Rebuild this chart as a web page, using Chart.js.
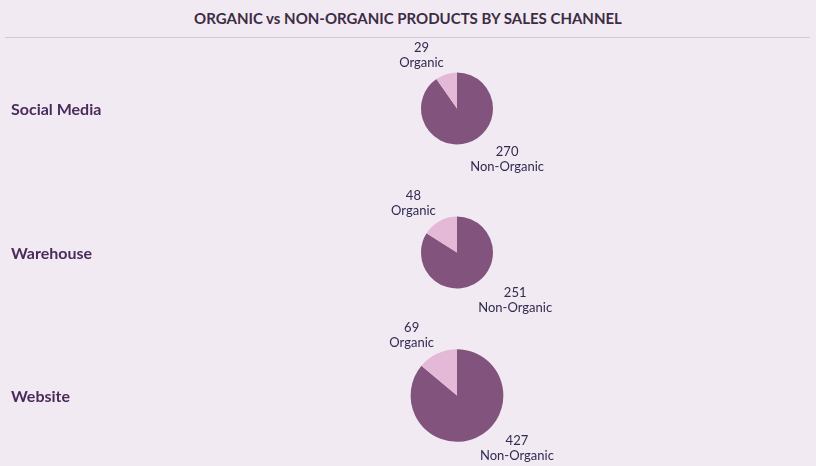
<!DOCTYPE html>
<html><head><meta charset="utf-8">
<script src="https://cdn.jsdelivr.net/npm/chart.js@4"></script>
<style>
html,body{margin:0;padding:0;background:#f2eaf2;}
#wrap{position:relative;width:816px;height:466px;overflow:hidden;background:#f2eaf2;font-family:Lato,"Open Sans",sans-serif;}
#title{position:absolute;left:0;top:9px;width:816px;text-align:center;font-weight:bold;font-size:15px;line-height:18px;color:#3d2c45;}
#rule{position:absolute;left:5px;top:37px;width:805px;height:1px;background:#d3c9d3;}
canvas.pie{position:absolute;left:0;}
.lab{position:absolute;left:11px;height:143px;line-height:143px;font-weight:bold;font-size:16px;color:#4a2c5c;white-space:nowrap;}
</style></head>
<body><div id="wrap">
<div id="title">ORGANIC vs NON-ORGANIC PRODUCTS BY SALES CHANNEL</div>
<div id="rule"></div>
</div>
<script>
const channels = ['Social Media', 'Warehouse', 'Website'];
const sliceLabels = ['Non-Organic', 'Organic'];
const nonOrganic = [270, 251, 427];
const organic = [29, 48, 69];

const DARK = '#82547d';
const LIGHT = '#e4b9d7';
const LABEL_COLOR = '#302b50';
const ROW_TOPS = [37, 181, 324];
const ROW_H = 143, PAD = 20;
const BASE_R = 36, BASE_TOTAL = nonOrganic[0] + organic[0];

const labelPlugin = {
  id: 'outLabels',
  afterDatasetsDraw(chart) {
    const ctx = chart.ctx;
    const ds = chart.data.datasets[0];
    const meta = chart.getDatasetMeta(0);
    ctx.save();
    ctx.font = '13px Lato, "Open Sans", sans-serif';
    ctx.fillStyle = LABEL_COLOR;
    ctx.textAlign = 'center';
    ctx.textBaseline = 'middle';
    const lh = 15;
    meta.data.forEach((arc, i) => {
      const p = arc.getProps(['x', 'y', 'startAngle', 'endAngle', 'outerRadius'], true);
      const mid = (p.startAngle + p.endAngle) / 2;
      const r = p.outerRadius + 8;
      const px = p.x + Math.cos(mid) * r;
      const py = p.y + Math.sin(mid) * r;
      const lines = [String(ds.data[i]), chart.data.labels[i]];
      const w = Math.max(...lines.map(t => ctx.measureText(t).width));
      const h = lines.length * lh;
      const left = Math.cos(mid) >= 0 ? px : px - w;
      let top = Math.sin(mid) >= 0 ? py - 6 : py + 4 - h;
      top = Math.min(top, chart.height - PAD - 4 - h);
      lines.forEach((t, k) => ctx.fillText(t, left + w / 2, top + lh * k + lh / 2));
    });
    ctx.restore();
  }
};

const wrap = document.getElementById('wrap');
channels.forEach((name, i) => {
  const cv = document.createElement('canvas');
  cv.className = 'pie';
  cv.width = 816; cv.height = ROW_H + 2 * PAD;
  cv.style.top = (ROW_TOPS[i] - PAD) + 'px';
  wrap.appendChild(cv);
  const lab = document.createElement('div');
  lab.className = 'lab';
  lab.style.top = ROW_TOPS[i] + 'px';
  lab.textContent = name;
  wrap.appendChild(lab);
  const total = nonOrganic[i] + organic[i];
  const radius = BASE_R * Math.sqrt(total / BASE_TOTAL);
  new Chart(cv, {
    type: 'pie',
    data: {
      labels: sliceLabels,
      datasets: [{
        data: [nonOrganic[i], organic[i]],
        backgroundColor: [DARK, LIGHT],
        borderWidth: 0
      }]
    },
    options: {
      responsive: false,
      animation: false,
      events: [],
      radius: radius,
      layout: { padding: { left: 98, right: 0, top: PAD, bottom: PAD } },
      plugins: { legend: { display: false }, tooltip: { enabled: false }, title: { display: false } }
    },
    plugins: [labelPlugin]
  });
});
</script>
</body></html>
